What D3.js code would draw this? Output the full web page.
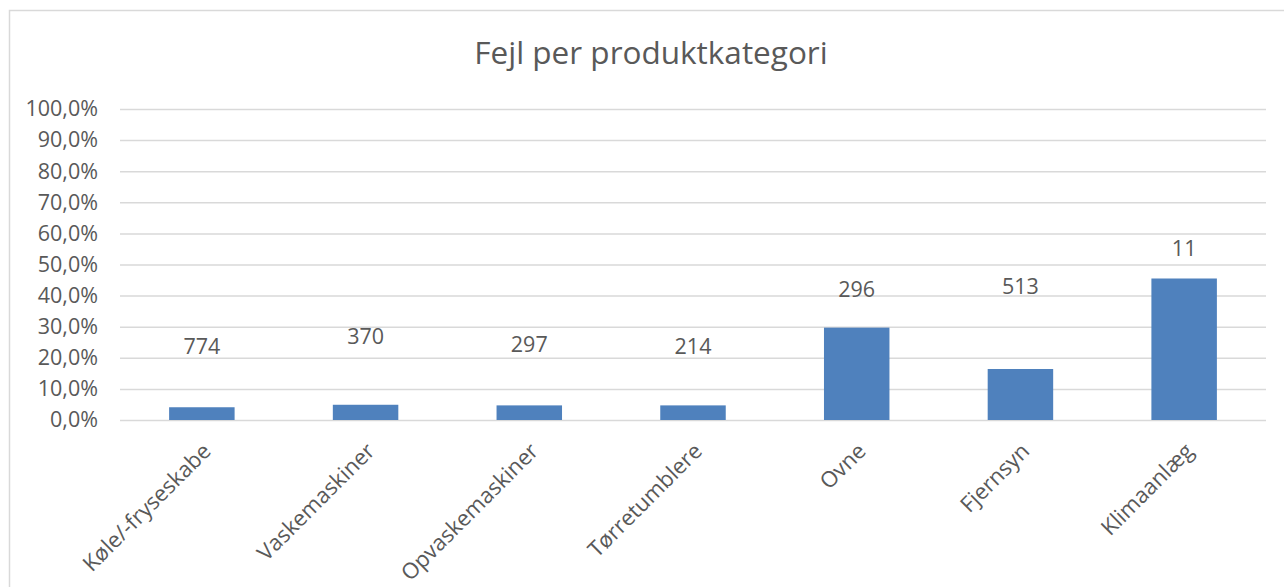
<!DOCTYPE html>
<html>
<head>
<meta charset="utf-8">
<script src="https://cdn.jsdelivr.net/npm/d3@7"></script>
<style>
  body { margin: 0; background: #fff; }
  text { font-family: "Open Sans", sans-serif; fill: #595959; }
</style>
</head>
<body>
<div id="plot"></div>
<script>
// chart values
var categories = ["Køle/-fryseskabe", "Vaskemaskiner", "Opvaskemaskiner", "Tørretumblere", "Ovne", "Fjernsyn", "Klimaanlæg"];
var failRate = [4.1, 4.9, 4.7, 4.7, 29.7, 16.4, 45.5];   // percent
var counts = ["774", "370", "297", "214", "296", "513", "11"];
var countLabelLevel = [21.1, 24.3, 21.8, 21.2, 39.5, 40.5, 52.7]; // where the count labels sit, in percent units
var yTicks = [0, 10, 20, 30, 40, 50, 60, 70, 80, 90, 100];
var title = "Fejl per produktkategori";

var svgWidth = 1284;
var svgHeight = 587;
var margin = { top: 109, right: 18, bottom: 167, left: 120 };
var width = svgWidth - margin.left - margin.right;
var height = svgHeight - margin.top - margin.bottom;

var da = d3.formatLocale({ decimal: ",", thousands: ".", grouping: [3], currency: ["", " kr."] });
var pct = da.format(".1f");

var plotData = categories.map((c, i) => ({
  category: c,
  rate: failRate[i],
  count: counts[i],
  level: countLabelLevel[i]
}));

var svg = d3.select("#plot")
  .append("svg")
  .attr("width", svgWidth)
  .attr("height", svgHeight);

// chart area border (only top + left visible in the crop)
svg.append("rect")
  .attr("x", 9.5)
  .attr("y", 10.5)
  .attr("width", svgWidth + 20)
  .attr("height", svgHeight + 20)
  .attr("fill", "none")
  .attr("stroke", "#d9d9d9")
  .attr("stroke-width", 1.5);

svg.append("text")
  .attr("x", 651)
  .attr("y", 64)
  .attr("text-anchor", "middle")
  .style("font-size", "31.5px")
  .text(title);

var chartGroup = svg.append("g")
  .attr("transform", `translate(${margin.left}, ${margin.top})`);

var xScale = d3.scaleBand()
  .domain(categories)
  .range([0, width])
  .paddingInner(0.6)
  .paddingOuter(0.3);

var yScale = d3.scaleLinear()
  .domain([0, 100])
  .range([height, 0]);

// y axis + gridlines
var leftAxis = d3.axisLeft(yScale)
  .tickValues(yTicks)
  .tickSizeInner(-width)
  .tickSizeOuter(0)
  .tickPadding(22)
  .tickFormat(d => pct(d) + "%");

var yAxisG = chartGroup.append("g")
  .attr("class", "y_axis")
  .call(leftAxis);
yAxisG.select(".domain").remove();
yAxisG.selectAll("line").attr("stroke", "#d9d9d9").attr("stroke-width", 1.5);
yAxisG.selectAll("text").style("font-size", "21.5px").attr("fill", "#595959");

// bars
chartGroup.selectAll(".bar")
  .data(plotData)
  .enter()
  .append("rect")
  .attr("class", "bar")
  .attr("x", d => xScale(d.category))
  .attr("y", d => yScale(d.rate))
  .attr("width", xScale.bandwidth())
  .attr("height", d => height - yScale(d.rate))
  .attr("fill", "#4f81bd");

// count labels
chartGroup.selectAll(".countLabel")
  .data(plotData)
  .enter()
  .append("text")
  .attr("class", "countLabel")
  .attr("x", d => xScale(d.category) + xScale.bandwidth() / 2)
  .attr("y", d => yScale(d.level))
  .attr("text-anchor", "middle")
  .style("font-size", "21.5px")
  .text(d => d.count);

// x axis, rotated category names
var bottomAxis = d3.axisBottom(xScale).tickSize(0).tickPadding(0);
var xAxisG = chartGroup.append("g")
  .attr("class", "x_axis")
  .attr("transform", `translate(0, ${height})`)
  .call(bottomAxis);
xAxisG.select(".domain").remove();
xAxisG.selectAll("text")
  .style("font-size", "22px")
  .attr("fill", "#595959")
  .attr("text-anchor", "end")
  .attr("x", 0)
  .attr("y", 0)
  .attr("dy", "0.35em")
  .attr("transform", "translate(5, 27) rotate(-45)");
</script>
</body>
</html>
